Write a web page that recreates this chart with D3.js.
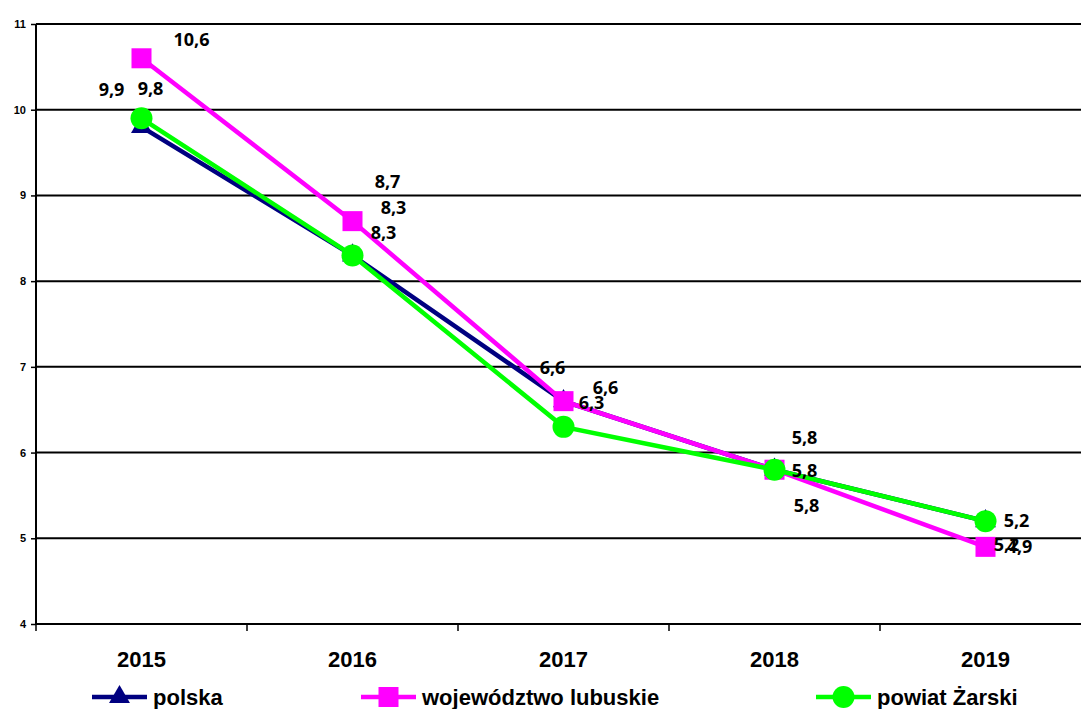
<!DOCTYPE html>
<html>
<head>
<meta charset="utf-8">
<script src="https://cdn.jsdelivr.net/npm/d3@7"></script>
<style>
  body { margin: 0; background: #fff; }
  svg { display: block; }
</style>
</head>
<body>
<svg id="chart"></svg>
<script>
var years = ["2015", "2016", "2017", "2018", "2019"]
var yTicks = [4, 5, 6, 7, 8, 9, 10, 11]

var polska = [9.8, 8.3, 6.6, 5.8, 5.2]
var lubuskie = [10.6, 8.7, 6.6, 5.8, 4.9]
var zarski = [9.9, 8.3, 6.3, 5.8, 5.2]

// where each data label sits relative to its point (labels were moved by hand in the original)
var polskaLabelOffsets = [[9, -39], [41, -48], [-11, -34], [30, -33], [21, 23]]
var lubuskieLabelOffsets = [[50, -19], [35, -40], [42, -14], [32, 35], [34, -1]]
var zarskiLabelOffsets = [[-30, -29], [31, -23], [28, -25], [30, 0], [31, -1]]

var width = 1081, height = 709
var plot = {left: 36, right: 1091, top: 24, bottom: 624}

var svg = d3.select("#chart")
  .attr("width", width)
  .attr("height", height)

var x = d3.scaleBand()
  .domain(years)
  .range([plot.left, plot.right])

var y = d3.scaleLinear()
  .domain([4, 11])
  .range([plot.bottom, plot.top])

// grid lines
svg.append("g")
  .selectAll("line")
  .data(yTicks.slice(1))
  .enter().append("line")
    .attr("x1", plot.left)
    .attr("x2", plot.right)
    .attr("y1", function(d) { return y(d) })
    .attr("y2", function(d) { return y(d) })
    .attr("stroke", "#000")
    .attr("stroke-width", 2)

// y axis
var yAxis = svg.append("g")
  .attr("transform", "translate(" + plot.left + ",0)")
  .call(d3.axisLeft(y).tickValues(yTicks).tickFormat(d3.format("d")).tickSize(5).tickPadding(5))
yAxis.select(".domain").attr("stroke-width", 2).attr("d", "M0," + plot.top + "V" + plot.bottom)
yAxis.selectAll(".tick line").attr("stroke-width", 1.5)
yAxis.selectAll("text")
  .attr("font-family", "Arial, 'Liberation Sans', sans-serif")
  .attr("font-weight", "bold")
  .attr("font-size", 11)
  .attr("fill", "#000")

// x axis, ticks at band edges
var xAxis = svg.append("g")
  .attr("transform", "translate(0," + plot.bottom + ")")
xAxis.append("line")
  .attr("x1", plot.left).attr("x2", plot.right)
  .attr("stroke", "#000").attr("stroke-width", 2)
xAxis.selectAll(".edge")
  .data(years)
  .enter().append("line")
    .attr("class", "edge")
    .attr("x1", function(d) { return x(d) })
    .attr("x2", function(d) { return x(d) })
    .attr("y1", 0).attr("y2", 7)
    .attr("stroke", "#000").attr("stroke-width", 1.5)
xAxis.selectAll("text")
  .data(years)
  .enter().append("text")
    .attr("x", function(d) { return x(d) + x.bandwidth() / 2 })
    .attr("y", 43)
    .attr("text-anchor", "middle")
    .attr("font-family", "Arial, 'Liberation Sans', sans-serif")
    .attr("font-weight", "bold")
    .attr("font-size", 22)
    .text(function(d) { return d })

var cx = function(d, i) { return x(years[i]) + x.bandwidth() / 2 }

var series = [
  {name: "polska", values: polska, color: "#000080", marker: "triangle", offsets: polskaLabelOffsets},
  {name: "województwo lubuskie", values: lubuskie, color: "#ff00ff", marker: "square", offsets: lubuskieLabelOffsets},
  {name: "powiat Żarski", values: zarski, color: "#00ff00", marker: "circle", offsets: zarskiLabelOffsets}
]

var line = d3.line()
  .x(cx)
  .y(function(d) { return y(d) })

var drawMarker = function(g, kind, color) {
  if (kind == "triangle") {
    g.append("path").attr("d", d3.symbol().type(d3.symbolTriangle).size(190)()).attr("fill", color)
  } else if (kind == "square") {
    g.append("rect").attr("x", -10).attr("y", -10).attr("width", 20).attr("height", 20).attr("fill", color)
  } else {
    g.append("circle").attr("r", 11).attr("fill", color)
  }
}

series.forEach(function(s) {
  var g = svg.append("g")
  g.append("path")
    .datum(s.values)
    .attr("d", line)
    .attr("fill", "none")
    .attr("stroke", s.color)
    .attr("stroke-width", 4.5)
  g.selectAll(".mk")
    .data(s.values)
    .enter().append("g")
      .attr("class", "mk")
      .attr("transform", function(d, i) { return "translate(" + cx(d, i) + "," + y(d) + ")" })
      .each(function() { drawMarker(d3.select(this), s.marker, s.color) })
})

// data labels on top
series.forEach(function(s) {
  svg.append("g")
    .selectAll("text")
    .data(s.values)
    .enter().append("text")
      .attr("x", function(d, i) { return cx(d, i) + s.offsets[i][0] })
      .attr("y", function(d, i) { return y(d) + s.offsets[i][1] })
      .attr("text-anchor", "middle")
      .attr("dominant-baseline", "central")
      .attr("font-family", "'Open Sans', 'DejaVu Sans', sans-serif")
      .attr("font-weight", "bold")
      .attr("font-size", 18)
      .text(function(d) { return String(d).replace(".", ",") })
})

// legend
var legendX = [92, 361, 816]
var legend = svg.append("g")
series.forEach(function(s, i) {
  var g = legend.append("g").attr("transform", "translate(" + legendX[i] + ",697)")
  g.append("line").attr("x1", 0).attr("x2", 55).attr("stroke", s.color).attr("stroke-width", 4.5)
  var m = g.append("g").attr("transform", "translate(27.5,0)")
  drawMarker(m, s.marker, s.color)
  g.append("text")
    .attr("x", 61)
    .attr("y", 8)
    .attr("font-family", "Arial, 'Liberation Sans', sans-serif")
    .attr("font-weight", "bold")
    .attr("font-size", 22)
    .text(s.name)
})
</script>
</body>
</html>
